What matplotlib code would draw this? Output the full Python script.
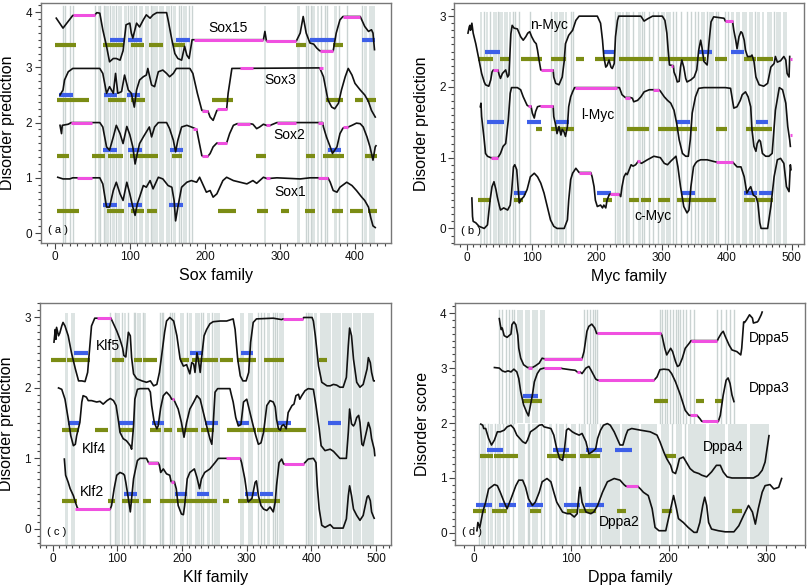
import matplotlib
matplotlib.use("Agg")
import matplotlib.pyplot as plt
from matplotlib.ticker import MultipleLocator

plt.rcParams['font.family'] = ['Liberation Sans', 'DejaVu Sans']

BLACK = '#111111'
MAG = '#f050e0'
BLUE = '#3d5fe8'
OLIVE = '#7b8c14'
SPAN = '#dde4e3'
LINE = '#cad3d2'

# ---------------- Panel (a): Sox family ----------------
sox15 = [(2,3.89),(11,3.71),(24,3.94),(53,3.94),(56,3.99),(60,3.98),(64,3.68),(69,3.38),(73,3.10),(78,3.16),(82,3.16),(87,3.13),(91,3.30),(95,3.77),(100,3.80),(102,3.62),(104,3.53),(109,3.80),(113,3.73),(118,3.86),(122,3.95),(127,3.89),(131,3.95),(136,3.99),(149,3.99),(151,3.86),(156,3.50),(160,3.25),(164,3.16),(169,3.13),(173,3.38),(176,3.22),(179,3.16),(183,3.50),(186,3.50),(278,3.50),(280,3.65),(282,3.48),(322,3.48),(327,3.62),(331,3.92),(335,3.62),(340,3.44),(345,3.42),(349,3.35),(353,3.30),(371,3.30),(375,3.62),(380,3.86),(384,3.92),(407,3.92),(409,3.86),(413,3.74),(418,3.65),(422,3.68),(424,3.62),(426,3.32)]
sox3 = [(7,2.50),(11,2.59),(13,2.77),(18,2.92),(24,2.98),(60,2.98),(64,2.89),(69,2.53),(73,2.65),(78,2.53),(81,2.89),(84,2.53),(89,2.56),(93,2.86),(98,2.59),(102,2.53),(106,2.28),(109,2.59),(113,2.77),(118,2.83),(122,2.86),(124,2.98),(129,2.68),(133,2.65),(138,2.92),(144,2.95),(149,2.89),(153,2.83),(158,2.89),(162,2.98),(180,2.98),(184,2.89),(190,2.53),(196,2.22),(204,2.21),(207,2.10),(211,2.04),(216,2.22),(229,2.24),(231,2.53),(236,2.98),(353,2.99),(358,2.83),(364,2.41),(369,2.28),(373,2.25),(378,2.35),(382,2.59),(387,2.83),(391,2.98),(396,2.86),(400,2.71),(407,2.59),(413,2.50),(418,2.38),(422,2.22),(427,2.10)]
sox2 = [(7,1.95),(9,1.80),(10,1.95),(18,1.97),(22,2.0),(60,2.0),(64,1.92),(69,1.56),(73,1.50),(78,1.74),(82,1.95),(87,1.80),(91,1.62),(96,1.93),(100,1.78),(104,1.56),(107,1.25),(110,1.44),(113,1.62),(118,1.74),(122,1.83),(126,1.92),(129,1.74),(133,1.92),(138,2.0),(149,2.0),(153,1.89),(158,1.68),(161,1.47),(164,1.68),(169,1.92),(176,1.95),(182,1.92),(189,1.88),(191,1.74),(196,1.40),(204,1.39),(207,1.44),(211,1.56),(216,1.63),(229,1.63),(233,1.80),(238,1.95),(243,1.98),(260,1.98),(264,1.97),(269,1.89),(273,1.92),(278,1.97),(282,1.95),(287,1.95),(296,2.0),(357,2.0),(358,1.92),(362,1.74),(367,1.56),(370,1.44),(376,1.56),(380,1.80),(384,1.90),(391,1.92),(396,1.95),(402,1.99),(407,1.98),(411,1.92),(416,1.74),(420,1.56),(424,1.32),(427,1.56),(428,1.58)]
sox1 = [(4,1.01),(11,0.98),(20,0.98),(24,1.0),(49,1.0),(60,1.0),(64,0.89),(69,0.47),(73,0.47),(78,0.77),(82,0.92),(87,0.71),(91,0.59),(96,0.92),(100,0.71),(104,0.47),(107,0.32),(110,0.53),(113,0.65),(118,0.86),(122,0.83),(127,0.95),(131,0.80),(138,1.01),(144,0.98),(151,0.86),(156,0.83),(159,0.59),(161,0.22),(164,0.47),(169,0.83),(176,0.92),(182,0.95),(189,0.92),(193,1.01),(198,0.86),(202,0.74),(207,0.77),(211,0.65),(216,0.71),(220,0.83),(224,0.95),(229,1.01),(238,0.95),(247,0.92),(256,0.89),(264,0.95),(269,0.90),(278,1.01),(282,0.99),(287,0.99),(296,1.0),(327,0.98),(340,1.0),(364,1.0),(367,0.92),(371,0.77),(376,0.74),(380,0.83),(389,0.92),(396,0.86),(402,0.77),(409,0.65),(413,0.59),(418,0.47),(421,0.28),(424,0.13),(427,0.10)]
sox_magenta = [(24,53,3.94),(186,278,3.50),(282,322,3.48),(353,371,3.30),(384,407,3.92),
               (196,204,2.21),(216,229,2.24),(247,264,2.99),(352,357,2.99),
               (22,50,2.0),(184,189,1.89),(196,204,1.39),(216,229,1.63),(243,260,1.98),(282,287,1.95),(296,322,2.0),(351,357,2.0),(384,391,1.92),
               (29,49,1.0),(282,287,0.99),(351,364,1.0)]
sox_blue = [(73,93,3.5),(98,116,3.5),(162,180,3.5),(340,373,3.5),(409,427,3.5),
            (6,24,2.5),(65,83,2.5),(96,114,2.5),
            (64,83,1.5),(98,116,1.5),(153,171,1.5),(364,382,1.5),
            (64,83,0.5),(98,116,0.5),(152,171,0.5)]
sox_olive = [(0,28,3.4),(64,91,3.4),(102,119,3.4),(125,144,3.4),(158,173,3.4),(321,335,3.4),(371,384,3.4),
             (3,21,2.4),(22,46,2.4),(71,95,2.4),(102,120,2.4),(209,238,2.4),(361,384,2.4),(400,411,2.4),(416,428,2.4),
             (3,19,1.4),(50,67,1.4),(71,91,1.4),(100,138,1.4),(156,169,1.4),(268,282,1.4),(335,347,1.4),(358,385,1.4),(413,429,1.4),
             (3,32,0.4),(70,92,0.4),(102,119,0.4),(123,136,0.4),(218,241,0.4),(270,284,0.4),(302,312,0.4),(333,347,0.4),(369,384,0.4),(394,411,0.4),(418,429,0.4)]
sox_labels = [("Sox15",231,3.71),("Sox3",300,2.77),("Sox2",313,1.77),("Sox1",313,0.74)]
sox_gray_spans = [(58,62),(66,72),(76,80),(84,90),(92,96),(100,104),(112,118),(120,126),(130,137),(139,146),(148,153),(158,162),(171,176),(279,282),(323,327),(343,347),(349,352),(372,376),(412,416),(419,427)]
sox_gray_lines = [11,14,20,24,53,60,65,74,82,98,106,108,128,155,165,168,179,183,335,338,341,355,360,363,379,389,409]

# ---------------- Panel (b): Myc family ----------------
nmyc = [(2,2.76),(4,2.85),(5,2.87),(6,2.80),(8,2.90),(10,2.76),(14,2.61),(19,2.38),(23,2.19),(27,2.07),(29,2.03),(34,2.01),(37,2.10),(39,2.21),(41,2.24),(48,2.24),(50,2.17),(52,2.12),(55,2.19),(57,2.21),(60,2.24),(63,2.14),(65,2.17),(68,2.75),(70,2.87),(73,2.83),(78,2.82),(83,2.71),(87,2.66),(91,2.71),(94,2.76),(97,2.78),(100,2.71),(104,2.64),(107,2.61),(109,2.52),(111,2.40),(114,2.24),(133,2.24),(134,2.14),(137,2.05),(142,2.03),(147,2.14),(150,2.36),(152,2.61),(157,2.73),(163,2.80),(168,2.94),(173,3.0),(201,3.0),(206,2.90),(209,2.66),(211,2.43),(214,2.28),(216,2.30),(219,2.38),(222,2.28),(224,2.26),(227,2.33),(229,2.71),(232,2.94),(234,3.0),(268,3.0),(273,2.93),(278,2.96),(286,3.0),(301,3.0),(305,2.94),(308,2.76),(310,2.52),(312,2.31),(318,2.30),(319,2.21),(322,2.14),(324,2.07),(327,2.08),(329,2.28),(331,2.38),(334,2.28),(337,2.12),(339,2.07),(345,2.10),(350,2.14),(354,2.24),(357,2.52),(360,2.66),(362,2.56),(365,2.36),(370,2.31),(373,2.64),(376,2.92),(380,2.99),(396,2.97),(398,2.93),(409,2.93),(411,2.80),(414,2.66),(416,2.54),(419,2.71),(422,2.78),(424,2.76),(427,2.66),(429,2.52),(432,2.43),(437,2.43),(439,2.45),(442,2.36),(445,2.14),(450,2.03),(457,2.01),(463,2.05),(468,2.28),(473,2.33),(475,2.43),(478,2.35),(483,2.37),(488,2.43),(491,2.38),(493,2.19),(496,2.14),(497,2.43)]
lmyc = [(21,1.72),(22,1.77),(23,1.58),(27,1.25),(29,1.06),(32,1.02),(37,1.0),(48,1.0),(52,1.06),(56,1.16),(60,1.20),(64,1.53),(67,1.91),(69,1.99),(78,1.99),(83,1.96),(87,1.86),(93,1.74),(95,1.73),(99,1.73),(101,1.63),(104,1.56),(106,1.65),(109,1.72),(113,1.73),(133,1.73),(134,1.58),(137,1.46),(139,1.34),(142,1.44),(145,1.32),(147,1.40),(150,1.36),(152,1.30),(155,1.44),(157,1.72),(160,1.86),(163,1.93),(166,1.99),(232,1.99),(235,1.99),(239,1.89),(244,1.85),(252,1.85),(255,1.84),(257,1.79),(263,1.81),(268,1.86),(273,1.93),(281,1.96),(286,1.96),(296,1.96),(298,1.94),(304,1.86),(309,1.81),(314,1.77),(319,1.67),(323,1.49),(327,1.25),(332,1.06),(337,1.02),(341,1.02),(344,1.25),(347,1.63),(352,1.86),(357,1.98),(365,1.99),(398,1.99),(406,1.98),(409,1.81),(411,1.70),(416,1.72),(421,1.81),(424,1.89),(429,1.93),(433,1.86),(437,1.72),(439,1.39),(442,1.16),(445,1.09),(447,1.20),(450,1.25),(452,1.23),(455,1.06),(460,1.02),(465,1.02),(470,1.06),(475,1.67),(481,1.99),(486,1.96),(491,1.77),(494,1.44),(497,1.25),(498,1.16)]
cmyc = [(8,0.43),(9,0.17),(10,0.10),(14,0.08),(19,0.03),(27,0.0),(32,0.05),(36,0.40),(39,0.59),(42,0.66),(45,0.55),(47,0.45),(50,0.33),(52,0.26),(57,0.29),(63,0.26),(67,0.33),(69,0.50),(72,0.87),(74,0.90),(77,0.83),(79,0.59),(81,0.36),(83,0.40),(88,0.45),(93,0.55),(98,0.73),(104,0.78),(109,0.73),(114,0.64),(119,0.50),(124,0.31),(129,0.12),(134,0.03),(139,0.0),(150,0.0),(155,0.12),(157,0.40),(160,0.69),(163,0.78),(168,0.85),(173,0.79),(191,0.79),(193,0.73),(196,0.59),(198,0.40),(201,0.31),(206,0.33),(209,0.29),(211,0.33),(214,0.29),(216,0.40),(219,0.47),(221,0.49),(234,0.49),(237,0.45),(239,0.59),(242,0.73),(245,0.78),(247,0.76),(250,0.83),(253,0.90),(256,0.88),(260,0.90),(264,0.95),(269,0.92),(278,0.97),(288,1.02),(298,1.0),(304,0.92),(309,0.90),(314,0.95),(322,1.02),(325,0.87),(329,0.59),(334,0.31),(339,0.22),(342,0.26),(345,0.59),(349,0.87),(352,0.92),(355,0.95),(360,0.97),(370,0.97),(383,0.94),(409,0.94),(411,0.92),(416,0.87),(422,0.87),(427,0.73),(431,0.50),(434,0.55),(437,0.59),(441,0.47),(445,0.45),(448,0.36),(451,0.08),(453,0.0),(463,0.0),(468,0.31),(473,0.73),(478,0.97),(483,0.99),(488,0.92),(492,0.59),(496,0.52),(498,0.90),(499,0.83)]
myc_magenta = [(41,48,2.24),(114,133,2.24),(314,318,2.30),(398,409,2.93),(497.5,500,2.39),
               (38,48,1.0),(95,99,1.73),(113,133,1.73),(166,232,1.99),(244,252,1.85),(286,296,1.96),(497.5,500,1.32),
               (173,191,0.79),(221,234,0.49),(262,266,0.95),(383,409,0.94)]
myc_blue = [(28,52,2.5),(209,228,2.5),(357,378,2.5),(406,427,2.5),
            (32,58,1.5),(93,115,1.5),(137,157,1.5),(324,344,1.5),(445,464,1.5),
            (73,91,0.5),(201,222,0.5),(332,351,0.5),(427,446,0.5),(450,470,0.5)]
myc_olive = [(17,41,2.4),(52,67,2.4),(84,116,2.4),(130,153,2.4),(168,181,2.4),(197,228,2.4),(234,286,2.4),(296,368,2.4),(382,401,2.4),(427,445,2.4),(447,472,2.4),
             (106,116,1.4),(129,165,1.4),(246,281,1.4),(294,355,1.4),(384,401,1.4),(429,446,1.4),(447,470,1.4),
             (17,38,0.4),(73,87,0.4),(209,223,0.4),(250,265,0.4),(268,283,0.4),(294,313,0.4),(324,383,0.4),(427,444,0.4),(447,472,0.4)]
myc_labels = [("n-Myc",127,2.87),("l-Myc",201,1.60),("c-Myc",286,0.17)]
myc_gray_spans = [(20,24),(29,33),(40,46),(50,56),(58,63),(65,68),(134,140),(142,149),(151,155),(232,237),(239,242),(247,252),(263,268),(299,305),(307,314),(360,366),(373,380),(406,412),(414,420),(424,432),(434,440),(446,452),(454,458),(462,470),(476,484),(486,493)]
myc_gray_lines = [26,36,48,71,75,80,98,130,160,163,228,245,256,270,273,280,287,294,318,322,329,339,345,352,356,370,383,386,398,402,443,473]

# ---------------- Panel (c): Klf family ----------------
klf5 = [(2,2.65),(4,2.83),(5,2.69),(6,2.86),(9,2.74),(11,2.78),(14,2.88),(16,2.93),(19,2.88),(24,2.74),(29,2.50),(35,2.27),(40,2.10),(45,2.10),(50,2.09),(54,2.22),(57,2.55),(60,2.88),(65,2.99),(90,2.99),(94,2.91),(99,2.81),(104,2.69),(108,2.57),(110,2.46),(113,2.44),(117,2.79),(120,2.74),(122,2.43),(125,2.20),(130,2.13),(138,2.10),(145,2.08),(151,2.10),(156,2.03),(161,2.05),(165,2.22),(169,2.50),(173,2.79),(176,2.95),(181,3.0),(187,2.95),(192,2.74),(197,2.41),(202,2.31),(207,2.33),(212,2.20),(215,2.36),(218,2.34),(220,2.22),(223,2.50),(225,2.41),(228,2.22),(230,2.41),(234,2.74),(238,2.83),(243,2.91),(248,2.94),(259,2.95),(269,2.95),(279,2.98),(282,2.83),(286,2.41),(290,2.17),(294,2.10),(299,2.10),(303,2.22),(306,2.65),(310,2.93),(315,2.98),(341,2.99),(354,2.97),(356,2.98),(387,2.98),(388,3.0),(401,3.0),(403,2.95),(406,2.74),(411,2.31),(416,2.08),(424,2.03),(429,2.03),(434,2.05),(439,2.04),(444,2.01),(449,2.01),(454,2.15),(457,2.60),(459,2.85),(462,2.74),(465,2.41),(470,2.08),(475,2.01),(480,2.05),(486,2.27),(488,2.43),(491,2.36),(493,2.22),(496,2.10),(497,2.10)]
klf4 = [(9,2.0),(14,1.98),(19,1.84),(24,1.56),(28,1.32),(32,1.18),(35,1.20),(37,1.32),(42,1.51),(45,1.80),(47,1.89),(52,1.87),(55,1.82),(60,1.82),(68,1.80),(73,1.81),(78,1.77),(84,1.82),(89,1.85),(94,1.82),(98,1.75),(102,1.51),(104,1.37),(109,1.28),(114,1.25),(120,1.18),(122,1.13),(125,1.46),(127,1.84),(131,1.98),(135,1.99),(148,1.99),(151,1.94),(153,1.75),(157,1.51),(161,1.42),(163,1.46),(167,1.72),(171,1.89),(176,1.94),(181,1.89),(184,1.84),(187,1.84),(189,1.80),(194,1.70),(199,1.51),(203,1.30),(207,1.51),(212,1.70),(218,1.80),(223,1.89),(228,1.84),(234,1.61),(238,1.46),(243,1.28),(246,1.20),(248,1.46),(251,1.94),(255,1.99),(274,1.99),(276,1.91),(279,1.80),(283,1.58),(287,1.46),(291,1.48),(295,1.80),(300,1.84),(305,1.65),(310,1.46),(314,1.32),(318,1.20),(322,1.22),(326,1.37),(331,1.75),(336,1.82),(341,1.80),(344,1.73),(346,1.56),(349,1.42),(352,1.40),(354,1.46),(357,1.48),(361,1.42),(364,1.65),(370,1.75),(373,1.77),(376,1.89),(380,1.91),(382,1.84),(385,1.89),(390,1.96),(395,1.99),(403,1.98),(407,1.75),(412,1.42),(415,1.18),(421,1.11),(429,1.13),(434,1.10),(444,1.0),(454,1.0),(457,1.37),(459,1.70),(462,1.49),(465,1.46),(467,1.49),(470,1.58),(473,1.61),(475,1.51),(478,1.20),(480,1.18),(486,1.42),(488,1.51),(491,1.42),(493,1.28),(497,1.13),(498,1.04)]
klf2 = [(18,0.99),(20,0.76),(22,0.71),(24,0.66),(27,0.57),(32,0.47),(35,0.38),(38,0.30),(40,0.28),(89,0.28),(91,0.33),(95,0.57),(99,0.76),(104,0.80),(109,0.78),(111,0.76),(113,0.66),(117,0.43),(120,0.24),(122,0.43),(125,0.71),(127,0.80),(131,0.97),(135,1.0),(145,1.0),(148,0.94),(163,0.94),(165,0.90),(167,0.80),(171,0.85),(176,0.78),(181,0.76),(183,0.67),(188,0.67),(191,0.57),(194,0.33),(199,0.21),(202,0.20),(204,0.33),(208,0.71),(212,0.80),(219,0.85),(223,0.73),(227,0.57),(230,0.71),(235,0.80),(243,0.85),(251,0.94),(256,1.0),(290,1.0),(292,0.94),(297,0.71),(302,0.38),(308,0.43),(313,0.66),(315,0.68),(318,0.47),(322,0.33),(326,0.28),(331,0.26),(336,0.31),(341,0.24),(344,0.38),(346,0.61),(350,0.94),(354,0.99),(357,0.92),(388,0.92),(390,0.94),(395,0.99),(403,1.0),(407,0.94),(409,0.61),(412,0.28),(416,0.05),(421,0.02),(429,0.06),(434,0.01),(449,0.01),(454,0.14),(457,0.47),(459,0.61),(462,0.47),(465,0.28),(470,0.19),(475,0.12),(480,0.19),(486,0.45),(488,0.47),(491,0.40),(493,0.24),(496,0.17),(497,0.15)]
klf_magenta = [(68,90,2.99),(356,387,2.98),(184,187,1.84),
               (35,89,0.28),(148,163,0.94),(183,188,0.67),(268,290,1.0),(357,388,0.92)]
klf_blue = [(33,54,2.5),(212,232,2.5),(291,309,2.5),
            (23,41,1.5),(103,124,1.5),(153,172,1.5),(236,255,1.5),(285,304,1.5),(349,368,1.5),(426,446,1.5),
            (110,130,0.5),(189,208,0.5),(223,242,0.5),(297,316,0.5),(321,341,0.5)]
klf_olive = [(-2,21,2.4),(22,58,2.4),(91,110,2.4),(125,138,2.4),(140,161,2.4),(197,210,2.4),(216,256,2.4),(259,278,2.4),(285,314,2.4),(326,358,2.4),(411,424,2.4),
             (15,40,1.4),(65,85,1.4),(102,125,1.4),(151,167,1.4),(172,185,1.4),(192,224,1.4),(230,249,1.4),(269,314,1.4),(316,392,1.4),
             (15,37,0.4),(86,96,0.4),(107,134,0.4),(140,152,0.4),(166,254,0.4),(263,272,0.4),(286,300,0.4),(302,352,0.4)]
klf_labels = [("Klf5",85,2.60),("Klf4",63,1.13),("Klf2",60,0.52)]
klf_gray_spans = [(19,24),(28,35),(98,104),(110,114),(131,136),(141,145),(197,203),(210,215),(220,228),(238,243),(250,259),(290,296),(302,310),(331,336),(350,357),(397,402),(404,408),(413,430),(432,446),(448,462),(464,476),(478,497)]
klf_gray_lines = [89,96,107,117,125,128,140,166,169,171,181,184,187,207,230,233,246,318,322,327,340,344,347,392,395]

# ---------------- Panel (d): Dppa family ----------------
dppa5 = [(26,3.90),(27,3.79),(28,3.70),(29,3.73),(31,3.59),(34,3.56),(36,3.59),(38,3.62),(39,3.79),(41,3.84),(43,3.79),(45,3.60),(46,3.36),(48,3.18),(51,3.06),(55,3.01),(60,3.01),(63,3.04),(67,3.09),(70,3.18),(72,3.17),(111,3.17),(113,3.30),(116,3.67),(118,3.76),(121,3.80),(124,3.73),(126,3.63),(192,3.63),(193,3.60),(196,3.36),(198,3.24),(200,3.30),(202,3.36),(204,3.30),(205,3.24),(207,3.12),(209,3.03),(211,3.05),(214,3.18),(217,3.36),(221,3.45),(223,3.50),(250,3.50),(251,3.54),(254,3.63),(256,3.67),(258,3.58),(262,3.42),(265,3.33),(270,3.30),(274,3.24),(275,3.36),(277,3.84),(278,3.83),(280,3.88),(283,3.97),(286,3.91),(287,3.82),(291,3.84),(292,3.86),(295,3.97),(296,4.02)]
dppa3 = [(21,3.01),(26,3.0),(29,2.95),(32,2.93),(35,2.95),(38,2.93),(41,2.98),(44,2.93),(46,2.81),(48,2.57),(51,2.33),(54,2.20),(56,2.13),(57,2.23),(60,2.51),(62,2.75),(65,2.90),(68,2.98),(72,3.0),(89,3.0),(91,2.99),(99,2.97),(104,2.96),(106,2.93),(109,2.93),(111,2.90),(115,3.0),(118,3.03),(120,2.97),(123,2.87),(125,2.80),(127,2.78),(185,2.78),(188,2.84),(191,2.97),(195,2.98),(200,2.97),(203,2.90),(207,2.75),(212,2.51),(217,2.23),(221,2.14),(229,2.14),(232,2.08),(234,2.03),(251,2.03),(253,2.14),(256,2.51),(259,2.78),(261,2.82),(263,2.72),(265,2.51),(267,2.39)]
dppa4 = [(7,1.98),(9,1.96),(10,1.90),(12,1.90),(15,1.72),(18,1.60),(21,1.69),(24,1.84),(27,1.84),(31,1.87),(34,1.93),(38,1.96),(41,1.90),(44,1.78),(50,1.66),(53,1.63),(55,1.69),(58,1.84),(63,1.90),(67,1.96),(70,1.97),(72,1.93),(79,1.90),(82,1.78),(85,1.53),(88,1.35),(91,1.32),(93,1.53),(95,1.87),(97,1.90),(101,1.84),(104,1.81),(108,1.78),(111,1.81),(115,1.66),(118,1.44),(121,1.47),(125,1.53),(127,1.72),(130,1.87),(133,1.96),(137,1.99),(140,1.96),(144,1.84),(147,1.72),(150,1.60),(153,1.60),(156,1.78),(158,1.87),(162,1.90),(171,1.87),(181,1.84),(188,1.78),(191,1.66),(195,1.47),(198,1.35),(202,1.23),(204,1.11),(207,1.08),(209,1.20),(211,1.35),(215,1.38),(218,1.29),(222,1.17),(226,1.11),(231,1.08),(234,1.05),(239,1.02),(244,1.11),(249,1.23),(253,1.23),(256,1.11),(260,1.02),(265,1.0),(287,1.0),(292,1.05),(296,1.14),(299,1.29),(301,1.53),(303,1.77)]
dppa2 = [(3,0.04),(4,0.19),(6,0.10),(9,0.38),(12,0.56),(15,0.80),(21,0.88),(24,0.86),(27,0.74),(31,0.56),(34,0.44),(38,0.62),(43,0.86),(46,0.96),(50,0.96),(53,0.83),(56,0.62),(60,0.50),(63,0.56),(67,0.74),(70,0.93),(75,0.99),(79,0.93),(82,0.74),(85,0.56),(91,0.38),(96,0.35),(99,0.35),(103,0.29),(106,0.35),(108,0.74),(109,0.83),(111,0.56),(115,0.38),(120,0.35),(123,0.38),(127,0.50),(132,0.74),(137,0.93),(144,0.99),(150,0.96),(154,0.88),(156,0.85),(168,0.85),(171,0.80),(174,0.74),(179,0.68),(183,0.44),(186,0.10),(190,0.04),(197,0.04),(202,0.44),(205,0.68),(208,0.44),(210,0.26),(215,0.19),(220,0.10),(226,0.01),(229,0.01),(232,0.19),(235,0.50),(237,0.65),(239,0.50),(241,0.19),(244,0.07),(251,0.04),(258,0.02),(267,0.02),(272,0.13),(277,0.32),(282,0.50),(286,0.38),(289,0.16),(292,0.44),(296,0.74),(299,0.86),(304,0.88),(308,0.80),(313,0.83),(316,0.99)]
dppa_magenta = [(55,60,3.01),(72,111,3.17),(126,192,3.63),(223,250,3.50),
                (72,89,3.0),(106,109,2.93),(127,185,2.78),(222,229,2.14),(234,251,2.03),
                (156,168,0.85)]
dppa_blue = [(50,66,2.5),
             (13,30,1.5),(81,98,1.5),(115,132,1.5),(145,162,1.5),
             (2,19,0.5),(26,43,0.5),(54,71,0.5),(92,109,0.5),(114,134,0.5)]
dppa_olive = [(49,70,2.4),(185,199,2.4),(228,236,2.4),(248,255,2.4),
              (6,20,1.4),(21,45,1.4),(75,105,1.4),(109,129,1.4),(197,208,1.4),
              (-1,12,0.4),(19,34,0.4),(58,69,0.4),(96,106,0.4),(108,125,0.4),(147,156,0.4),(193,203,0.4),(265,275,0.4)]
dppa_labels = [("Dppa5",303,3.54),("Dppa3",303,2.63),("Dppa4",256,1.56),("Dppa2",149,0.19)]
dppa_upper_spans = [(44,50),(52,58),(60,66),(68,73)]
dppa_upper_lines = [26,29,33,36,39,41,113,116,119,122,124,126,191,193,196,198,201,204,207,210,212,215,218,222,226,250,254,259,263,267]
dppa_lower_spans = [(7,12),(16,20),(24,28),(33,37),(45,52),(60,66),(77,80),(87,92),(100,105),(110,115),(120,126),(132,150),(152,170),(172,188),(192,200),(207,214),(220,238),(241,258),(261,280),(283,303)]
dppa_lower_lines = [5,14,22,30,40,55,57,69,72,84,95,108,118,129,203,217]

W, H = 808, 585
fig = plt.figure(figsize=(W / 100, H / 100), dpi=100)


def add_ax(l, t, r, b):
    return fig.add_axes([l / W, 1 - b / H, (r - l) / W, (b - t) / H])


def style(ax, xlim, ylim, xmaj, ymaj, xmin, ymin, xlabel, ylabel, panel):
    ax.set_xlim(*xlim)
    ax.set_ylim(*ylim)
    ax.xaxis.set_major_locator(MultipleLocator(xmaj))
    ax.yaxis.set_major_locator(MultipleLocator(ymaj))
    ax.xaxis.set_minor_locator(MultipleLocator(xmin))
    ax.yaxis.set_minor_locator(MultipleLocator(ymin))
    ax.tick_params(which='both', direction='out', top=False, right=False,
                   labelsize=8.5, colors='#444444', labelcolor='#111111', width=0.8)
    ax.tick_params(which='major', length=4, pad=2)
    ax.tick_params(which='minor', length=2.2)
    for sp in ax.spines.values():
        sp.set_color('#777777')
        sp.set_linewidth(1.0)
    ax.set_xlabel(xlabel, fontsize=11.5)
    ax.set_ylabel(ylabel, fontsize=11.5)
    ax.xaxis.set_label_coords(0.5, -0.105)
    ax.yaxis.set_label_coords(-0.072, 0.5)
    ax.text(0.02, 0.035, panel, transform=ax.transAxes, fontsize=8, ha='left', va='bottom')


def draw_gray(ax, spans, lines, y0, y1):
    for a, b in spans:
        ax.axvspan(a, b, ymin=y0, ymax=y1, color=SPAN, lw=0, zorder=0)
    for x in lines:
        ax.axvline(x, ymin=y0, ymax=y1, color=LINE, lw=1.0, zorder=0)


def draw_marks(ax, curves, magenta, blue, olive, labels):
    for a, b, y in olive:
        ax.plot([a, b], [y, y], color=OLIVE, lw=3.0, solid_capstyle='butt', zorder=2)
    for a, b, y in blue:
        ax.plot([a, b], [y, y], color=BLUE, lw=3.0, solid_capstyle='butt', zorder=3)
    for c in curves:
        ax.plot([p[0] for p in c], [p[1] for p in c], color=BLACK, lw=1.2, zorder=4)
    for a, b, y in magenta:
        ax.plot([a, b], [y, y], color=MAG, lw=2.2, solid_capstyle='butt', zorder=5)
    for name, x, y in labels:
        ax.text(x, y, name, fontsize=10, ha='center', va='center', zorder=6)


# (a)
ax = add_ax(40.5, 2.7, 391, 243)
style(ax, (-19, 448), (-0.18, 4.17), 100, 1, 10, 0.125, "Sox family", "Disorder prediction", "( a )")
draw_gray(ax, sox_gray_spans, sox_gray_lines, 0.0, 0.985)
draw_marks(ax, [sox15, sox3, sox2, sox1], sox_magenta, sox_blue, sox_olive, sox_labels)

# (b)
ax = add_ax(454, 2.7, 804, 244)
style(ax, (-19.5, 519), (-0.22, 3.19), 100, 1, 10, 0.1, "Myc family", "Disorder prediction", "( b )")
draw_gray(ax, myc_gray_spans, myc_gray_lines, 0.0, 0.96)
draw_marks(ax, [nmyc, lmyc, cmyc], myc_magenta, myc_blue, myc_olive, myc_labels)

# (c)
ax = add_ax(39.5, 302.7, 391, 545)
style(ax, (-20.4, 523), (-0.23, 3.21), 100, 1, 10, 0.1, "Klf family", "Disorder prediction", "( c )")
draw_gray(ax, klf_gray_spans, klf_gray_lines, 0.0, 0.958)
draw_marks(ax, [klf5, klf4, klf2], klf_magenta, klf_blue, klf_olive, klf_labels)

# (d)
ax = add_ax(455, 302.7, 805, 545)
ylo, yhi = -0.22, 4.19
style(ax, (-19.5, 340), (ylo, yhi), 100, 1, 10, 0.125, "Dppa family", "Disorder score", "( d )")
fr = lambda v: (v - ylo) / (yhi - ylo)
draw_gray(ax, dppa_upper_spans, dppa_upper_lines, fr(2.0), fr(4.05))
draw_gray(ax, dppa_lower_spans, dppa_lower_lines, 0.0, fr(1.99))
draw_marks(ax, [dppa5, dppa3, dppa4, dppa2], dppa_magenta, dppa_blue, dppa_olive, dppa_labels)

fig.savefig("out.png", dpi=100)
